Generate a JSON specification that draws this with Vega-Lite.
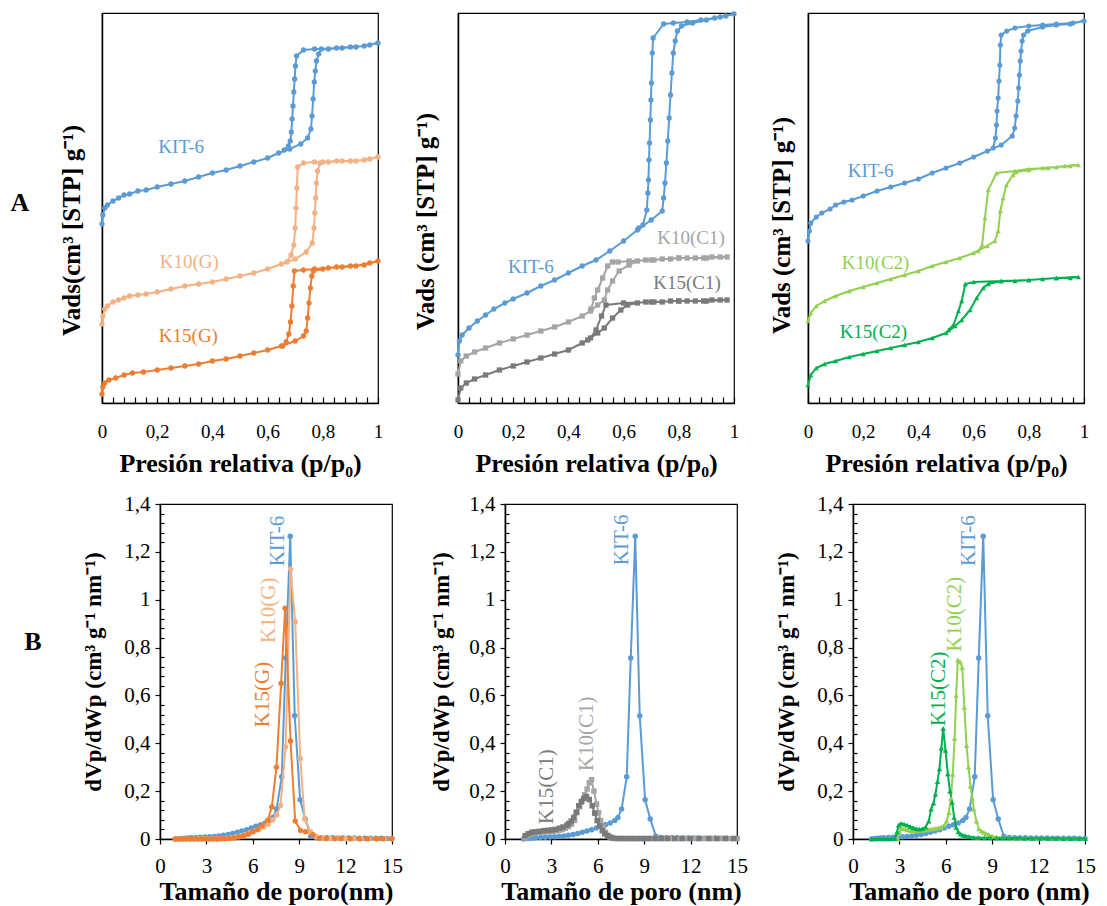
{
"$schema": "https://vega.github.io/schema/vega-lite/v6.json",
"padding": {"left": 10, "top": 9, "right": 0, "bottom": 0},
"spacing": 15,
"datasets": {
"t1": [
{"s":"KIT-6","i":0,"p":0,"v":179},{"s":"KIT-6","i":1,"p":0.003,"v":188},{"s":"KIT-6","i":2,"p":0.01,"v":195},{"s":"KIT-6","i":3,"p":0.02,"v":198},{"s":"KIT-6","i":4,"p":0.04,"v":202},{"s":"KIT-6","i":5,"p":0.06,"v":205},{"s":"KIT-6","i":6,"p":0.08,"v":208},{"s":"KIT-6","i":7,"p":0.1,"v":209},{"s":"KIT-6","i":8,"p":0.13,"v":212},{"s":"KIT-6","i":9,"p":0.16,"v":213},{"s":"KIT-6","i":10,"p":0.2,"v":216},{"s":"KIT-6","i":11,"p":0.25,"v":219},{"s":"KIT-6","i":12,"p":0.3,"v":222},{"s":"KIT-6","i":13,"p":0.35,"v":226},{"s":"KIT-6","i":14,"p":0.4,"v":230},{"s":"KIT-6","i":15,"p":0.45,"v":233},{"s":"KIT-6","i":16,"p":0.5,"v":237},{"s":"KIT-6","i":17,"p":0.55,"v":241},{"s":"KIT-6","i":18,"p":0.6,"v":245},{"s":"KIT-6","i":19,"p":0.64,"v":250},{"s":"KIT-6","i":20,"p":0.68,"v":254},{"s":"KIT-6","i":21,"p":0.72,"v":259},{"s":"KIT-6","i":22,"p":0.745,"v":265},{"s":"KIT-6","i":23,"p":0.757,"v":274},{"s":"KIT-6","i":24,"p":0.761,"v":287},{"s":"KIT-6","i":25,"p":0.765,"v":304},{"s":"KIT-6","i":26,"p":0.769,"v":321},{"s":"KIT-6","i":27,"p":0.773,"v":332},{"s":"KIT-6","i":28,"p":0.777,"v":342},{"s":"KIT-6","i":29,"p":0.785,"v":349},{"s":"KIT-6","i":30,"p":0.795,"v":354},{"s":"KIT-6","i":31,"p":0.85,"v":355},{"s":"KIT-6","i":32,"p":0.9,"v":356},{"s":"KIT-6","i":33,"p":0.95,"v":357},{"s":"KIT-6","i":34,"p":1.0,"v":360},{"s":"KIT-6","i":35,"p":0.97,"v":358},{"s":"KIT-6","i":36,"p":0.92,"v":356},{"s":"KIT-6","i":37,"p":0.87,"v":355},{"s":"KIT-6","i":38,"p":0.82,"v":354},{"s":"KIT-6","i":39,"p":0.77,"v":354},{"s":"KIT-6","i":40,"p":0.73,"v":353},{"s":"KIT-6","i":41,"p":0.705,"v":347},{"s":"KIT-6","i":42,"p":0.701,"v":337},{"s":"KIT-6","i":43,"p":0.698,"v":324},{"s":"KIT-6","i":44,"p":0.695,"v":311},{"s":"KIT-6","i":45,"p":0.692,"v":297},{"s":"KIT-6","i":46,"p":0.689,"v":284},{"s":"KIT-6","i":47,"p":0.686,"v":271},{"s":"KIT-6","i":48,"p":0.682,"v":262},{"s":"KIT-6","i":49,"p":0.675,"v":257},{"s":"KIT-6","i":50,"p":0.66,"v":253},
{"s":"K10(G)","i":0,"p":0,"v":79},{"s":"K10(G)","i":1,"p":0.003,"v":87},{"s":"K10(G)","i":2,"p":0.01,"v":94},{"s":"K10(G)","i":3,"p":0.02,"v":97},{"s":"K10(G)","i":4,"p":0.04,"v":101},{"s":"K10(G)","i":5,"p":0.06,"v":103},{"s":"K10(G)","i":6,"p":0.08,"v":105},{"s":"K10(G)","i":7,"p":0.1,"v":107},{"s":"K10(G)","i":8,"p":0.13,"v":108},{"s":"K10(G)","i":9,"p":0.16,"v":109},{"s":"K10(G)","i":10,"p":0.2,"v":111},{"s":"K10(G)","i":11,"p":0.25,"v":114},{"s":"K10(G)","i":12,"p":0.3,"v":117},{"s":"K10(G)","i":13,"p":0.35,"v":119},{"s":"K10(G)","i":14,"p":0.4,"v":121},{"s":"K10(G)","i":15,"p":0.45,"v":124},{"s":"K10(G)","i":16,"p":0.5,"v":127},{"s":"K10(G)","i":17,"p":0.55,"v":130},{"s":"K10(G)","i":18,"p":0.6,"v":134},{"s":"K10(G)","i":19,"p":0.65,"v":139},{"s":"K10(G)","i":20,"p":0.7,"v":144},{"s":"K10(G)","i":21,"p":0.74,"v":151},{"s":"K10(G)","i":22,"p":0.762,"v":160},{"s":"K10(G)","i":23,"p":0.768,"v":175},{"s":"K10(G)","i":24,"p":0.771,"v":190},{"s":"K10(G)","i":25,"p":0.774,"v":205},{"s":"K10(G)","i":26,"p":0.777,"v":220},{"s":"K10(G)","i":27,"p":0.781,"v":232},{"s":"K10(G)","i":28,"p":0.79,"v":240},{"s":"K10(G)","i":29,"p":0.8,"v":241},{"s":"K10(G)","i":30,"p":0.85,"v":242},{"s":"K10(G)","i":31,"p":0.9,"v":242},{"s":"K10(G)","i":32,"p":0.95,"v":243},{"s":"K10(G)","i":33,"p":1.0,"v":246},{"s":"K10(G)","i":34,"p":0.97,"v":244},{"s":"K10(G)","i":35,"p":0.92,"v":242},{"s":"K10(G)","i":36,"p":0.87,"v":242},{"s":"K10(G)","i":37,"p":0.82,"v":241},{"s":"K10(G)","i":38,"p":0.77,"v":241},{"s":"K10(G)","i":39,"p":0.73,"v":240},{"s":"K10(G)","i":40,"p":0.709,"v":236},{"s":"K10(G)","i":41,"p":0.706,"v":215},{"s":"K10(G)","i":42,"p":0.703,"v":195},{"s":"K10(G)","i":43,"p":0.7,"v":175},{"s":"K10(G)","i":44,"p":0.695,"v":158},{"s":"K10(G)","i":45,"p":0.685,"v":148},{"s":"K10(G)","i":46,"p":0.67,"v":141},
{"s":"K15(G)","i":0,"p":0,"v":9},{"s":"K15(G)","i":1,"p":0.003,"v":16},{"s":"K15(G)","i":2,"p":0.01,"v":20},{"s":"K15(G)","i":3,"p":0.025,"v":23},{"s":"K15(G)","i":4,"p":0.05,"v":25},{"s":"K15(G)","i":5,"p":0.08,"v":28},{"s":"K15(G)","i":6,"p":0.11,"v":30},{"s":"K15(G)","i":7,"p":0.15,"v":31},{"s":"K15(G)","i":8,"p":0.2,"v":33},{"s":"K15(G)","i":9,"p":0.25,"v":35},{"s":"K15(G)","i":10,"p":0.3,"v":37},{"s":"K15(G)","i":11,"p":0.35,"v":39},{"s":"K15(G)","i":12,"p":0.4,"v":42},{"s":"K15(G)","i":13,"p":0.45,"v":44},{"s":"K15(G)","i":14,"p":0.5,"v":47},{"s":"K15(G)","i":15,"p":0.55,"v":50},{"s":"K15(G)","i":16,"p":0.6,"v":53},{"s":"K15(G)","i":17,"p":0.65,"v":57},{"s":"K15(G)","i":18,"p":0.7,"v":62},{"s":"K15(G)","i":19,"p":0.73,"v":67},{"s":"K15(G)","i":20,"p":0.74,"v":72},{"s":"K15(G)","i":21,"p":0.745,"v":85},{"s":"K15(G)","i":22,"p":0.75,"v":100},{"s":"K15(G)","i":23,"p":0.755,"v":115},{"s":"K15(G)","i":24,"p":0.76,"v":127},{"s":"K15(G)","i":25,"p":0.766,"v":132},{"s":"K15(G)","i":26,"p":0.8,"v":134},{"s":"K15(G)","i":27,"p":0.85,"v":136},{"s":"K15(G)","i":28,"p":0.9,"v":137},{"s":"K15(G)","i":29,"p":0.95,"v":138},{"s":"K15(G)","i":30,"p":1.0,"v":142},{"s":"K15(G)","i":31,"p":0.97,"v":140},{"s":"K15(G)","i":32,"p":0.92,"v":137},{"s":"K15(G)","i":33,"p":0.87,"v":136},{"s":"K15(G)","i":34,"p":0.82,"v":135},{"s":"K15(G)","i":35,"p":0.77,"v":134},{"s":"K15(G)","i":36,"p":0.73,"v":133},{"s":"K15(G)","i":37,"p":0.697,"v":132},{"s":"K15(G)","i":38,"p":0.693,"v":117},{"s":"K15(G)","i":39,"p":0.688,"v":97},{"s":"K15(G)","i":40,"p":0.683,"v":81},{"s":"K15(G)","i":41,"p":0.677,"v":69},{"s":"K15(G)","i":42,"p":0.667,"v":61},{"s":"K15(G)","i":43,"p":0.655,"v":57}
],
"t2": [
{"s":"KIT-6","i":0,"p":0,"v":48},{"s":"KIT-6","i":1,"p":0.005,"v":62},{"s":"KIT-6","i":2,"p":0.015,"v":68},{"s":"KIT-6","i":3,"p":0.04,"v":75},{"s":"KIT-6","i":4,"p":0.07,"v":82},{"s":"KIT-6","i":5,"p":0.1,"v":88},{"s":"KIT-6","i":6,"p":0.13,"v":94},{"s":"KIT-6","i":7,"p":0.17,"v":100},{"s":"KIT-6","i":8,"p":0.2,"v":104},{"s":"KIT-6","i":9,"p":0.25,"v":110},{"s":"KIT-6","i":10,"p":0.3,"v":117},{"s":"KIT-6","i":11,"p":0.35,"v":123},{"s":"KIT-6","i":12,"p":0.4,"v":130},{"s":"KIT-6","i":13,"p":0.45,"v":137},{"s":"KIT-6","i":14,"p":0.5,"v":143},{"s":"KIT-6","i":15,"p":0.55,"v":152},{"s":"KIT-6","i":16,"p":0.6,"v":162},{"s":"KIT-6","i":17,"p":0.65,"v":173},{"s":"KIT-6","i":18,"p":0.7,"v":183},{"s":"KIT-6","i":19,"p":0.74,"v":192},{"s":"KIT-6","i":20,"p":0.745,"v":205},{"s":"KIT-6","i":21,"p":0.75,"v":220},{"s":"KIT-6","i":22,"p":0.755,"v":240},{"s":"KIT-6","i":23,"p":0.76,"v":262},{"s":"KIT-6","i":24,"p":0.765,"v":285},{"s":"KIT-6","i":25,"p":0.77,"v":308},{"s":"KIT-6","i":26,"p":0.775,"v":330},{"s":"KIT-6","i":27,"p":0.78,"v":350},{"s":"KIT-6","i":28,"p":0.787,"v":362},{"s":"KIT-6","i":29,"p":0.795,"v":372},{"s":"KIT-6","i":30,"p":0.81,"v":377},{"s":"KIT-6","i":31,"p":0.85,"v":380},{"s":"KIT-6","i":32,"p":0.9,"v":383},{"s":"KIT-6","i":33,"p":0.95,"v":386},{"s":"KIT-6","i":34,"p":1.0,"v":389},{"s":"KIT-6","i":35,"p":0.97,"v":387},{"s":"KIT-6","i":36,"p":0.93,"v":385},{"s":"KIT-6","i":37,"p":0.88,"v":383},{"s":"KIT-6","i":38,"p":0.83,"v":381},{"s":"KIT-6","i":39,"p":0.78,"v":380},{"s":"KIT-6","i":40,"p":0.745,"v":379},{"s":"KIT-6","i":41,"p":0.707,"v":365},{"s":"KIT-6","i":42,"p":0.704,"v":350},{"s":"KIT-6","i":43,"p":0.701,"v":320},{"s":"KIT-6","i":44,"p":0.699,"v":303},{"s":"KIT-6","i":45,"p":0.697,"v":283},{"s":"KIT-6","i":46,"p":0.694,"v":260},{"s":"KIT-6","i":47,"p":0.692,"v":243},{"s":"KIT-6","i":48,"p":0.69,"v":223},{"s":"KIT-6","i":49,"p":0.688,"v":210},{"s":"KIT-6","i":50,"p":0.684,"v":193},{"s":"KIT-6","i":51,"p":0.67,"v":178},{"s":"KIT-6","i":52,"p":0.655,"v":175},
{"s":"K10(C1)","i":0,"p":0,"v":29},{"s":"K10(C1)","i":1,"p":0.01,"v":42},{"s":"K10(C1)","i":2,"p":0.03,"v":47},{"s":"K10(C1)","i":3,"p":0.06,"v":51},{"s":"K10(C1)","i":4,"p":0.1,"v":55},{"s":"K10(C1)","i":5,"p":0.15,"v":60},{"s":"K10(C1)","i":6,"p":0.2,"v":64},{"s":"K10(C1)","i":7,"p":0.25,"v":68},{"s":"K10(C1)","i":8,"p":0.3,"v":72},{"s":"K10(C1)","i":9,"p":0.35,"v":76},{"s":"K10(C1)","i":10,"p":0.4,"v":81},{"s":"K10(C1)","i":11,"p":0.45,"v":87},{"s":"K10(C1)","i":12,"p":0.48,"v":92},{"s":"K10(C1)","i":13,"p":0.506,"v":98},{"s":"K10(C1)","i":14,"p":0.53,"v":103},{"s":"K10(C1)","i":15,"p":0.542,"v":113},{"s":"K10(C1)","i":16,"p":0.56,"v":122},{"s":"K10(C1)","i":17,"p":0.584,"v":132},{"s":"K10(C1)","i":18,"p":0.62,"v":138},{"s":"K10(C1)","i":19,"p":0.65,"v":142},{"s":"K10(C1)","i":20,"p":0.68,"v":143},{"s":"K10(C1)","i":21,"p":0.71,"v":143},{"s":"K10(C1)","i":22,"p":0.74,"v":144},{"s":"K10(C1)","i":23,"p":0.77,"v":144},{"s":"K10(C1)","i":24,"p":0.8,"v":145},{"s":"K10(C1)","i":25,"p":0.83,"v":145},{"s":"K10(C1)","i":26,"p":0.86,"v":145},{"s":"K10(C1)","i":27,"p":0.89,"v":145},{"s":"K10(C1)","i":28,"p":0.92,"v":146},{"s":"K10(C1)","i":29,"p":0.95,"v":146},{"s":"K10(C1)","i":30,"p":0.975,"v":146},{"s":"K10(C1)","i":31,"p":0.9,"v":145},{"s":"K10(C1)","i":32,"p":0.8,"v":145},{"s":"K10(C1)","i":33,"p":0.7,"v":143},{"s":"K10(C1)","i":34,"p":0.62,"v":142},{"s":"K10(C1)","i":35,"p":0.58,"v":141},{"s":"K10(C1)","i":36,"p":0.56,"v":141},{"s":"K10(C1)","i":37,"p":0.542,"v":137},{"s":"K10(C1)","i":38,"p":0.524,"v":125},{"s":"K10(C1)","i":39,"p":0.506,"v":113},{"s":"K10(C1)","i":40,"p":0.494,"v":105},{"s":"K10(C1)","i":41,"p":0.482,"v":94},
{"s":"K15(C1)","i":0,"p":0,"v":3},{"s":"K15(C1)","i":1,"p":0.01,"v":15},{"s":"K15(C1)","i":2,"p":0.03,"v":20},{"s":"K15(C1)","i":3,"p":0.06,"v":24},{"s":"K15(C1)","i":4,"p":0.1,"v":28},{"s":"K15(C1)","i":5,"p":0.15,"v":33},{"s":"K15(C1)","i":6,"p":0.2,"v":37},{"s":"K15(C1)","i":7,"p":0.25,"v":41},{"s":"K15(C1)","i":8,"p":0.3,"v":45},{"s":"K15(C1)","i":9,"p":0.35,"v":49},{"s":"K15(C1)","i":10,"p":0.4,"v":53},{"s":"K15(C1)","i":11,"p":0.45,"v":60},{"s":"K15(C1)","i":12,"p":0.47,"v":63},{"s":"K15(C1)","i":13,"p":0.506,"v":70},{"s":"K15(C1)","i":14,"p":0.53,"v":75},{"s":"K15(C1)","i":15,"p":0.56,"v":85},{"s":"K15(C1)","i":16,"p":0.59,"v":93},{"s":"K15(C1)","i":17,"p":0.614,"v":98},{"s":"K15(C1)","i":18,"p":0.65,"v":100},{"s":"K15(C1)","i":19,"p":0.68,"v":101},{"s":"K15(C1)","i":20,"p":0.71,"v":101},{"s":"K15(C1)","i":21,"p":0.74,"v":101},{"s":"K15(C1)","i":22,"p":0.77,"v":102},{"s":"K15(C1)","i":23,"p":0.8,"v":102},{"s":"K15(C1)","i":24,"p":0.83,"v":102},{"s":"K15(C1)","i":25,"p":0.86,"v":102},{"s":"K15(C1)","i":26,"p":0.89,"v":102},{"s":"K15(C1)","i":27,"p":0.92,"v":103},{"s":"K15(C1)","i":28,"p":0.95,"v":103},{"s":"K15(C1)","i":29,"p":0.975,"v":103},{"s":"K15(C1)","i":30,"p":0.9,"v":102},{"s":"K15(C1)","i":31,"p":0.8,"v":102},{"s":"K15(C1)","i":32,"p":0.7,"v":101},{"s":"K15(C1)","i":33,"p":0.6,"v":100},{"s":"K15(C1)","i":34,"p":0.536,"v":98},{"s":"K15(C1)","i":35,"p":0.52,"v":87},{"s":"K15(C1)","i":36,"p":0.5,"v":73},{"s":"K15(C1)","i":37,"p":0.48,"v":65}
],
"t3": [
{"s":"KIT-6","i":0,"p":0,"v":162},{"s":"KIT-6","i":1,"p":0.005,"v":172},{"s":"KIT-6","i":2,"p":0.01,"v":180},{"s":"KIT-6","i":3,"p":0.03,"v":186},{"s":"KIT-6","i":4,"p":0.05,"v":190},{"s":"KIT-6","i":5,"p":0.08,"v":194},{"s":"KIT-6","i":6,"p":0.1,"v":198},{"s":"KIT-6","i":7,"p":0.13,"v":201},{"s":"KIT-6","i":8,"p":0.16,"v":203},{"s":"KIT-6","i":9,"p":0.2,"v":207},{"s":"KIT-6","i":10,"p":0.25,"v":212},{"s":"KIT-6","i":11,"p":0.3,"v":216},{"s":"KIT-6","i":12,"p":0.35,"v":220},{"s":"KIT-6","i":13,"p":0.4,"v":224},{"s":"KIT-6","i":14,"p":0.45,"v":230},{"s":"KIT-6","i":15,"p":0.5,"v":235},{"s":"KIT-6","i":16,"p":0.55,"v":240},{"s":"KIT-6","i":17,"p":0.6,"v":246},{"s":"KIT-6","i":18,"p":0.65,"v":252},{"s":"KIT-6","i":19,"p":0.7,"v":258},{"s":"KIT-6","i":20,"p":0.74,"v":267},{"s":"KIT-6","i":21,"p":0.749,"v":275},{"s":"KIT-6","i":22,"p":0.754,"v":287},{"s":"KIT-6","i":23,"p":0.76,"v":302},{"s":"KIT-6","i":24,"p":0.763,"v":315},{"s":"KIT-6","i":25,"p":0.766,"v":328},{"s":"KIT-6","i":26,"p":0.769,"v":342},{"s":"KIT-6","i":27,"p":0.772,"v":352},{"s":"KIT-6","i":28,"p":0.776,"v":362},{"s":"KIT-6","i":29,"p":0.781,"v":368},{"s":"KIT-6","i":30,"p":0.796,"v":372},{"s":"KIT-6","i":31,"p":0.85,"v":376},{"s":"KIT-6","i":32,"p":0.9,"v":378},{"s":"KIT-6","i":33,"p":0.95,"v":379},{"s":"KIT-6","i":34,"p":1.0,"v":382},{"s":"KIT-6","i":35,"p":0.96,"v":380},{"s":"KIT-6","i":36,"p":0.9,"v":379},{"s":"KIT-6","i":37,"p":0.85,"v":378},{"s":"KIT-6","i":38,"p":0.8,"v":377},{"s":"KIT-6","i":39,"p":0.75,"v":375},{"s":"KIT-6","i":40,"p":0.72,"v":372},{"s":"KIT-6","i":41,"p":0.7,"v":368},{"s":"KIT-6","i":42,"p":0.697,"v":358},{"s":"KIT-6","i":43,"p":0.695,"v":338},{"s":"KIT-6","i":44,"p":0.692,"v":322},{"s":"KIT-6","i":45,"p":0.689,"v":305},{"s":"KIT-6","i":46,"p":0.685,"v":292},{"s":"KIT-6","i":47,"p":0.683,"v":278},{"s":"KIT-6","i":48,"p":0.679,"v":265},{"s":"KIT-6","i":49,"p":0.671,"v":255},
{"s":"K10(C2)","i":0,"p":0,"v":82},{"s":"K10(C2)","i":1,"p":0.01,"v":90},{"s":"K10(C2)","i":2,"p":0.03,"v":97},{"s":"K10(C2)","i":3,"p":0.06,"v":102},{"s":"K10(C2)","i":4,"p":0.1,"v":107},{"s":"K10(C2)","i":5,"p":0.15,"v":112},{"s":"K10(C2)","i":6,"p":0.2,"v":116},{"s":"K10(C2)","i":7,"p":0.25,"v":120},{"s":"K10(C2)","i":8,"p":0.3,"v":124},{"s":"K10(C2)","i":9,"p":0.35,"v":128},{"s":"K10(C2)","i":10,"p":0.4,"v":132},{"s":"K10(C2)","i":11,"p":0.45,"v":137},{"s":"K10(C2)","i":12,"p":0.5,"v":141},{"s":"K10(C2)","i":13,"p":0.55,"v":145},{"s":"K10(C2)","i":14,"p":0.6,"v":150},{"s":"K10(C2)","i":15,"p":0.649,"v":157},{"s":"K10(C2)","i":16,"p":0.677,"v":162},{"s":"K10(C2)","i":17,"p":0.689,"v":172},{"s":"K10(C2)","i":18,"p":0.697,"v":192},{"s":"K10(C2)","i":19,"p":0.707,"v":205},{"s":"K10(C2)","i":20,"p":0.719,"v":218},{"s":"K10(C2)","i":21,"p":0.743,"v":228},{"s":"K10(C2)","i":22,"p":0.754,"v":231},{"s":"K10(C2)","i":23,"p":0.8,"v":233},{"s":"K10(C2)","i":24,"p":0.85,"v":235},{"s":"K10(C2)","i":25,"p":0.9,"v":236},{"s":"K10(C2)","i":26,"p":0.95,"v":237},{"s":"K10(C2)","i":27,"p":0.98,"v":238},{"s":"K10(C2)","i":28,"p":0.93,"v":237},{"s":"K10(C2)","i":29,"p":0.87,"v":235},{"s":"K10(C2)","i":30,"p":0.8,"v":234},{"s":"K10(C2)","i":31,"p":0.75,"v":232},{"s":"K10(C2)","i":32,"p":0.683,"v":230},{"s":"K10(C2)","i":33,"p":0.653,"v":213},{"s":"K10(C2)","i":34,"p":0.641,"v":185},{"s":"K10(C2)","i":35,"p":0.631,"v":158},{"s":"K10(C2)","i":36,"p":0.617,"v":152},
{"s":"K15(C2)","i":0,"p":0,"v":18},{"s":"K15(C2)","i":1,"p":0.01,"v":28},{"s":"K15(C2)","i":2,"p":0.03,"v":35},{"s":"K15(C2)","i":3,"p":0.06,"v":39},{"s":"K15(C2)","i":4,"p":0.1,"v":42},{"s":"K15(C2)","i":5,"p":0.15,"v":46},{"s":"K15(C2)","i":6,"p":0.2,"v":49},{"s":"K15(C2)","i":7,"p":0.25,"v":52},{"s":"K15(C2)","i":8,"p":0.3,"v":55},{"s":"K15(C2)","i":9,"p":0.35,"v":58},{"s":"K15(C2)","i":10,"p":0.4,"v":61},{"s":"K15(C2)","i":11,"p":0.45,"v":65},{"s":"K15(C2)","i":12,"p":0.5,"v":70},{"s":"K15(C2)","i":13,"p":0.533,"v":77},{"s":"K15(C2)","i":14,"p":0.557,"v":83},{"s":"K15(C2)","i":15,"p":0.587,"v":93},{"s":"K15(C2)","i":16,"p":0.611,"v":105},{"s":"K15(C2)","i":17,"p":0.635,"v":115},{"s":"K15(C2)","i":18,"p":0.653,"v":119},{"s":"K15(C2)","i":19,"p":0.7,"v":122},{"s":"K15(C2)","i":20,"p":0.75,"v":122},{"s":"K15(C2)","i":21,"p":0.8,"v":123},{"s":"K15(C2)","i":22,"p":0.85,"v":124},{"s":"K15(C2)","i":23,"p":0.9,"v":125},{"s":"K15(C2)","i":24,"p":0.95,"v":125},{"s":"K15(C2)","i":25,"p":0.98,"v":126},{"s":"K15(C2)","i":26,"p":0.9,"v":125},{"s":"K15(C2)","i":27,"p":0.8,"v":123},{"s":"K15(C2)","i":28,"p":0.7,"v":122},{"s":"K15(C2)","i":29,"p":0.6,"v":121},{"s":"K15(C2)","i":30,"p":0.57,"v":119},{"s":"K15(C2)","i":31,"p":0.557,"v":102},{"s":"K15(C2)","i":32,"p":0.545,"v":92},{"s":"K15(C2)","i":33,"p":0.527,"v":78},{"s":"K15(C2)","i":34,"p":0.509,"v":73}
],
"kit": [
{"s":"KIT-6","p":1.2,"v":0},{"s":"KIT-6","p":1.4,"v":0.002},{"s":"KIT-6","p":1.6,"v":0.003},{"s":"KIT-6","p":1.8,"v":0.004},{"s":"KIT-6","p":2.0,"v":0.005},{"s":"KIT-6","p":2.3,"v":0.006},{"s":"KIT-6","p":2.6,"v":0.007},{"s":"KIT-6","p":2.9,"v":0.008},{"s":"KIT-6","p":3.2,"v":0.009},{"s":"KIT-6","p":3.5,"v":0.011},{"s":"KIT-6","p":3.8,"v":0.013},{"s":"KIT-6","p":4.1,"v":0.016},{"s":"KIT-6","p":4.4,"v":0.019},{"s":"KIT-6","p":4.7,"v":0.023},{"s":"KIT-6","p":5.0,"v":0.028},{"s":"KIT-6","p":5.3,"v":0.033},{"s":"KIT-6","p":5.6,"v":0.039},{"s":"KIT-6","p":5.9,"v":0.046},{"s":"KIT-6","p":6.2,"v":0.053},{"s":"KIT-6","p":6.5,"v":0.06},{"s":"KIT-6","p":6.8,"v":0.067},{"s":"KIT-6","p":7.1,"v":0.077},{"s":"KIT-6","p":7.3,"v":0.09},{"s":"KIT-6","p":7.54,"v":0.125},{"s":"KIT-6","p":7.87,"v":0.26},{"s":"KIT-6","p":8.13,"v":0.756},{"s":"KIT-6","p":8.42,"v":1.265},{"s":"KIT-6","p":8.71,"v":0.515},{"s":"KIT-6","p":9.06,"v":0.164},{"s":"KIT-6","p":9.39,"v":0.084},{"s":"KIT-6","p":9.75,"v":0.012},{"s":"KIT-6","p":10.1,"v":0.006},{"s":"KIT-6","p":10.45,"v":0.005},{"s":"KIT-6","p":10.8,"v":0.005},{"s":"KIT-6","p":11.15,"v":0.005},{"s":"KIT-6","p":11.5,"v":0.004},{"s":"KIT-6","p":11.85,"v":0.004},{"s":"KIT-6","p":12.2,"v":0.004},{"s":"KIT-6","p":12.55,"v":0.004},{"s":"KIT-6","p":12.9,"v":0.003},{"s":"KIT-6","p":13.25,"v":0.003},{"s":"KIT-6","p":13.6,"v":0.003},{"s":"KIT-6","p":13.95,"v":0.003},{"s":"KIT-6","p":14.3,"v":0.003},{"s":"KIT-6","p":14.65,"v":0.002},{"s":"KIT-6","p":15.0,"v":0.002}
],
"b4": [
{"s":"K10(G)","p":1.0,"v":0},{"s":"K10(G)","p":1.3,"v":0},{"s":"K10(G)","p":1.6,"v":0},{"s":"K10(G)","p":1.9,"v":0},{"s":"K10(G)","p":2.2,"v":0},{"s":"K10(G)","p":2.5,"v":0.001},{"s":"K10(G)","p":2.8,"v":0.001},{"s":"K10(G)","p":3.1,"v":0.001},{"s":"K10(G)","p":3.4,"v":0.001},{"s":"K10(G)","p":3.7,"v":0.002},{"s":"K10(G)","p":4.0,"v":0.002},{"s":"K10(G)","p":4.3,"v":0.003},{"s":"K10(G)","p":4.6,"v":0.005},{"s":"K10(G)","p":4.9,"v":0.008},{"s":"K10(G)","p":5.2,"v":0.012},{"s":"K10(G)","p":5.5,"v":0.018},{"s":"K10(G)","p":5.8,"v":0.025},{"s":"K10(G)","p":6.1,"v":0.032},{"s":"K10(G)","p":6.4,"v":0.04},{"s":"K10(G)","p":6.7,"v":0.05},{"s":"K10(G)","p":7.0,"v":0.062},{"s":"K10(G)","p":7.3,"v":0.08},{"s":"K10(G)","p":7.55,"v":0.1},{"s":"K10(G)","p":7.79,"v":0.14},{"s":"K10(G)","p":8.12,"v":0.385},{"s":"K10(G)","p":8.44,"v":1.128},{"s":"K10(G)","p":8.74,"v":0.908},{"s":"K10(G)","p":9.07,"v":0.336},{"s":"K10(G)","p":9.35,"v":0.085},{"s":"K10(G)","p":9.73,"v":0.03},{"s":"K10(G)","p":10.1,"v":0.01},{"s":"K10(G)","p":10.5,"v":0.004},{"s":"K10(G)","p":11.0,"v":0.002},{"s":"K10(G)","p":11.5,"v":0.002},{"s":"K10(G)","p":12.0,"v":0.001},{"s":"K10(G)","p":12.5,"v":0.001},{"s":"K10(G)","p":13.0,"v":0.001},{"s":"K10(G)","p":13.5,"v":0.001},{"s":"K10(G)","p":14.0,"v":0.001},{"s":"K10(G)","p":14.5,"v":0.001},{"s":"K10(G)","p":15.0,"v":0.001},
{"s":"K15(G)","p":0.97,"v":0},{"s":"K15(G)","p":1.2,"v":0},{"s":"K15(G)","p":1.45,"v":0},{"s":"K15(G)","p":1.7,"v":0},{"s":"K15(G)","p":1.95,"v":0},{"s":"K15(G)","p":2.2,"v":0},{"s":"K15(G)","p":2.45,"v":0},{"s":"K15(G)","p":2.7,"v":0},{"s":"K15(G)","p":2.95,"v":0},{"s":"K15(G)","p":3.2,"v":0},{"s":"K15(G)","p":3.45,"v":0},{"s":"K15(G)","p":3.7,"v":0},{"s":"K15(G)","p":3.95,"v":0.001},{"s":"K15(G)","p":4.2,"v":0.001},{"s":"K15(G)","p":4.5,"v":0.002},{"s":"K15(G)","p":4.8,"v":0.004},{"s":"K15(G)","p":5.1,"v":0.008},{"s":"K15(G)","p":5.4,"v":0.013},{"s":"K15(G)","p":5.7,"v":0.02},{"s":"K15(G)","p":6.0,"v":0.03},{"s":"K15(G)","p":6.3,"v":0.04},{"s":"K15(G)","p":6.6,"v":0.055},{"s":"K15(G)","p":6.97,"v":0.078},{"s":"K15(G)","p":7.23,"v":0.134},{"s":"K15(G)","p":7.53,"v":0.3},{"s":"K15(G)","p":7.83,"v":0.65},{"s":"K15(G)","p":8.09,"v":0.964},{"s":"K15(G)","p":8.44,"v":0.41},{"s":"K15(G)","p":8.74,"v":0.075},{"s":"K15(G)","p":9.09,"v":0.036},{"s":"K15(G)","p":9.41,"v":0.03},{"s":"K15(G)","p":9.89,"v":0.018},{"s":"K15(G)","p":10.3,"v":0.003},{"s":"K15(G)","p":10.75,"v":0.002},{"s":"K15(G)","p":11.3,"v":0.002},{"s":"K15(G)","p":11.7,"v":0.002},{"s":"K15(G)","p":12.3,"v":0.001},{"s":"K15(G)","p":12.9,"v":0.001},{"s":"K15(G)","p":13.4,"v":0.001},{"s":"K15(G)","p":14.0,"v":0.001},{"s":"K15(G)","p":14.4,"v":0.001},{"s":"K15(G)","p":14.96,"v":0.001}
],
"b5": [
{"s":"K10(C1)","p":1.3,"v":0.005},{"s":"K10(C1)","p":1.5,"v":0.015},{"s":"K10(C1)","p":1.7,"v":0.022},{"s":"K10(C1)","p":1.9,"v":0.025},{"s":"K10(C1)","p":2.1,"v":0.027},{"s":"K10(C1)","p":2.3,"v":0.028},{"s":"K10(C1)","p":2.5,"v":0.029},{"s":"K10(C1)","p":2.7,"v":0.03},{"s":"K10(C1)","p":2.9,"v":0.031},{"s":"K10(C1)","p":3.1,"v":0.032},{"s":"K10(C1)","p":3.3,"v":0.034},{"s":"K10(C1)","p":3.5,"v":0.036},{"s":"K10(C1)","p":3.7,"v":0.04},{"s":"K10(C1)","p":3.9,"v":0.045},{"s":"K10(C1)","p":4.1,"v":0.052},{"s":"K10(C1)","p":4.3,"v":0.062},{"s":"K10(C1)","p":4.5,"v":0.078},{"s":"K10(C1)","p":4.66,"v":0.11},{"s":"K10(C1)","p":4.83,"v":0.135},{"s":"K10(C1)","p":4.99,"v":0.16},{"s":"K10(C1)","p":5.15,"v":0.185},{"s":"K10(C1)","p":5.31,"v":0.209},{"s":"K10(C1)","p":5.45,"v":0.235},{"s":"K10(C1)","p":5.59,"v":0.248},{"s":"K10(C1)","p":5.75,"v":0.2},{"s":"K10(C1)","p":5.92,"v":0.146},{"s":"K10(C1)","p":6.05,"v":0.11},{"s":"K10(C1)","p":6.18,"v":0.077},{"s":"K10(C1)","p":6.34,"v":0.05},{"s":"K10(C1)","p":6.5,"v":0.028},{"s":"K10(C1)","p":6.67,"v":0.015},{"s":"K10(C1)","p":6.83,"v":0.007},{"s":"K10(C1)","p":7.05,"v":0.003},{"s":"K10(C1)","p":7.37,"v":0.002},{"s":"K10(C1)","p":7.74,"v":0.002},{"s":"K10(C1)","p":8.09,"v":0.002},{"s":"K10(C1)","p":8.41,"v":0.002},{"s":"K10(C1)","p":8.78,"v":0.002},{"s":"K10(C1)","p":9.15,"v":0.002},{"s":"K10(C1)","p":9.5,"v":0.002},{"s":"K10(C1)","p":9.91,"v":0.002},{"s":"K10(C1)","p":10.3,"v":0.002},{"s":"K10(C1)","p":10.73,"v":0.002},{"s":"K10(C1)","p":11.23,"v":0.002},{"s":"K10(C1)","p":11.7,"v":0.002},{"s":"K10(C1)","p":12.25,"v":0.002},{"s":"K10(C1)","p":12.9,"v":0.002},{"s":"K10(C1)","p":13.44,"v":0.002},{"s":"K10(C1)","p":13.98,"v":0.002},{"s":"K10(C1)","p":14.52,"v":0.002},{"s":"K10(C1)","p":15.0,"v":0.002},
{"s":"K15(C1)","p":1.3,"v":0.014},{"s":"K15(C1)","p":1.5,"v":0.022},{"s":"K15(C1)","p":1.73,"v":0.028},{"s":"K15(C1)","p":1.95,"v":0.03},{"s":"K15(C1)","p":2.2,"v":0.032},{"s":"K15(C1)","p":2.5,"v":0.035},{"s":"K15(C1)","p":2.75,"v":0.036},{"s":"K15(C1)","p":3.0,"v":0.038},{"s":"K15(C1)","p":3.25,"v":0.04},{"s":"K15(C1)","p":3.5,"v":0.045},{"s":"K15(C1)","p":3.75,"v":0.05},{"s":"K15(C1)","p":4.0,"v":0.058},{"s":"K15(C1)","p":4.12,"v":0.065},{"s":"K15(C1)","p":4.28,"v":0.075},{"s":"K15(C1)","p":4.44,"v":0.09},{"s":"K15(C1)","p":4.6,"v":0.112},{"s":"K15(C1)","p":4.77,"v":0.139},{"s":"K15(C1)","p":4.93,"v":0.155},{"s":"K15(C1)","p":5.1,"v":0.17},{"s":"K15(C1)","p":5.27,"v":0.177},{"s":"K15(C1)","p":5.45,"v":0.165},{"s":"K15(C1)","p":5.64,"v":0.139},{"s":"K15(C1)","p":5.8,"v":0.108},{"s":"K15(C1)","p":5.96,"v":0.077},{"s":"K15(C1)","p":6.12,"v":0.055},{"s":"K15(C1)","p":6.29,"v":0.035},{"s":"K15(C1)","p":6.45,"v":0.022},{"s":"K15(C1)","p":6.61,"v":0.014},{"s":"K15(C1)","p":6.78,"v":0.008},{"s":"K15(C1)","p":6.94,"v":0.004},{"s":"K15(C1)","p":7.2,"v":0.002},{"s":"K15(C1)","p":7.55,"v":0.002},{"s":"K15(C1)","p":7.9,"v":0.002},{"s":"K15(C1)","p":8.25,"v":0.002},{"s":"K15(C1)","p":8.6,"v":0.002},{"s":"K15(C1)","p":8.95,"v":0.002},{"s":"K15(C1)","p":9.3,"v":0.002},{"s":"K15(C1)","p":9.7,"v":0.002},{"s":"K15(C1)","p":10.1,"v":0.002},{"s":"K15(C1)","p":10.5,"v":0.002},{"s":"K15(C1)","p":10.98,"v":0.002},{"s":"K15(C1)","p":11.45,"v":0.002},{"s":"K15(C1)","p":11.97,"v":0.002},{"s":"K15(C1)","p":12.55,"v":0.002},{"s":"K15(C1)","p":13.17,"v":0.002},{"s":"K15(C1)","p":13.7,"v":0.002},{"s":"K15(C1)","p":14.25,"v":0.002},{"s":"K15(C1)","p":14.8,"v":0.002}
],
"b6": [
{"s":"K10(C2)","p":2.9,"v":0},{"s":"K10(C2)","p":3.0,"v":0.03},{"s":"K10(C2)","p":3.1,"v":0.045},{"s":"K10(C2)","p":3.3,"v":0.042},{"s":"K10(C2)","p":3.5,"v":0.038},{"s":"K10(C2)","p":3.7,"v":0.035},{"s":"K10(C2)","p":3.9,"v":0.034},{"s":"K10(C2)","p":4.1,"v":0.034},{"s":"K10(C2)","p":4.3,"v":0.035},{"s":"K10(C2)","p":4.5,"v":0.036},{"s":"K10(C2)","p":4.7,"v":0.038},{"s":"K10(C2)","p":4.9,"v":0.04},{"s":"K10(C2)","p":5.1,"v":0.042},{"s":"K10(C2)","p":5.3,"v":0.044},{"s":"K10(C2)","p":5.5,"v":0.046},{"s":"K10(C2)","p":5.7,"v":0.05},{"s":"K10(C2)","p":5.9,"v":0.058},{"s":"K10(C2)","p":6.05,"v":0.075},{"s":"K10(C2)","p":6.2,"v":0.11},{"s":"K10(C2)","p":6.33,"v":0.17},{"s":"K10(C2)","p":6.45,"v":0.27},{"s":"K10(C2)","p":6.57,"v":0.42},{"s":"K10(C2)","p":6.67,"v":0.6},{"s":"K10(C2)","p":6.78,"v":0.748},{"s":"K10(C2)","p":6.93,"v":0.74},{"s":"K10(C2)","p":7.06,"v":0.717},{"s":"K10(C2)","p":7.2,"v":0.55},{"s":"K10(C2)","p":7.34,"v":0.39},{"s":"K10(C2)","p":7.47,"v":0.3},{"s":"K10(C2)","p":7.6,"v":0.22},{"s":"K10(C2)","p":7.71,"v":0.17},{"s":"K10(C2)","p":7.81,"v":0.125},{"s":"K10(C2)","p":7.98,"v":0.075},{"s":"K10(C2)","p":8.14,"v":0.042},{"s":"K10(C2)","p":8.3,"v":0.034},{"s":"K10(C2)","p":8.46,"v":0.028},{"s":"K10(C2)","p":8.62,"v":0.022},{"s":"K10(C2)","p":8.78,"v":0.018},{"s":"K10(C2)","p":9.0,"v":0.012},{"s":"K10(C2)","p":9.3,"v":0.008},{"s":"K10(C2)","p":9.7,"v":0.006},{"s":"K10(C2)","p":10.1,"v":0.005},{"s":"K10(C2)","p":10.6,"v":0.004},{"s":"K10(C2)","p":11.1,"v":0.004},{"s":"K10(C2)","p":11.6,"v":0.003},{"s":"K10(C2)","p":12.1,"v":0.003},{"s":"K10(C2)","p":12.6,"v":0.003},{"s":"K10(C2)","p":13.1,"v":0.002},{"s":"K10(C2)","p":13.6,"v":0.002},{"s":"K10(C2)","p":14.1,"v":0.002},{"s":"K10(C2)","p":14.6,"v":0.002},{"s":"K10(C2)","p":15.0,"v":0.002},
{"s":"K15(C2)","p":1.2,"v":0},{"s":"K15(C2)","p":1.45,"v":0},{"s":"K15(C2)","p":1.7,"v":0},{"s":"K15(C2)","p":1.95,"v":0},{"s":"K15(C2)","p":2.2,"v":0},{"s":"K15(C2)","p":2.45,"v":0},{"s":"K15(C2)","p":2.7,"v":0.002},{"s":"K15(C2)","p":2.85,"v":0.03},{"s":"K15(C2)","p":2.95,"v":0.058},{"s":"K15(C2)","p":3.1,"v":0.065},{"s":"K15(C2)","p":3.3,"v":0.062},{"s":"K15(C2)","p":3.5,"v":0.058},{"s":"K15(C2)","p":3.7,"v":0.052},{"s":"K15(C2)","p":3.9,"v":0.047},{"s":"K15(C2)","p":4.1,"v":0.043},{"s":"K15(C2)","p":4.3,"v":0.041},{"s":"K15(C2)","p":4.5,"v":0.043},{"s":"K15(C2)","p":4.7,"v":0.05},{"s":"K15(C2)","p":4.9,"v":0.075},{"s":"K15(C2)","p":5.05,"v":0.125},{"s":"K15(C2)","p":5.2,"v":0.15},{"s":"K15(C2)","p":5.33,"v":0.188},{"s":"K15(C2)","p":5.46,"v":0.24},{"s":"K15(C2)","p":5.59,"v":0.293},{"s":"K15(C2)","p":5.71,"v":0.38},{"s":"K15(C2)","p":5.83,"v":0.462},{"s":"K15(C2)","p":5.98,"v":0.37},{"s":"K15(C2)","p":6.13,"v":0.272},{"s":"K15(C2)","p":6.27,"v":0.2},{"s":"K15(C2)","p":6.41,"v":0.153},{"s":"K15(C2)","p":6.54,"v":0.09},{"s":"K15(C2)","p":6.67,"v":0.049},{"s":"K15(C2)","p":6.81,"v":0.03},{"s":"K15(C2)","p":6.95,"v":0.021},{"s":"K15(C2)","p":7.1,"v":0.016},{"s":"K15(C2)","p":7.27,"v":0.014},{"s":"K15(C2)","p":7.5,"v":0.01},{"s":"K15(C2)","p":7.8,"v":0.007},{"s":"K15(C2)","p":8.1,"v":0.006},{"s":"K15(C2)","p":8.5,"v":0.005},{"s":"K15(C2)","p":8.9,"v":0.005},{"s":"K15(C2)","p":9.3,"v":0.004},{"s":"K15(C2)","p":9.7,"v":0.004},{"s":"K15(C2)","p":10.1,"v":0.004},{"s":"K15(C2)","p":10.6,"v":0.004},{"s":"K15(C2)","p":11.1,"v":0.003},{"s":"K15(C2)","p":11.6,"v":0.003},{"s":"K15(C2)","p":12.1,"v":0.003},{"s":"K15(C2)","p":12.6,"v":0.003},{"s":"K15(C2)","p":13.1,"v":0.003},{"s":"K15(C2)","p":13.6,"v":0.002},{"s":"K15(C2)","p":14.1,"v":0.002},{"s":"K15(C2)","p":14.6,"v":0.002},{"s":"K15(C2)","p":15.0,"v":0.002}
],
"lt1": [{"s":"KIT-6","p":0.287,"v":256},{"s":"K10(G)","p":0.316,"v":141},{"s":"K15(G)","p":0.313,"v":67}],
"lt2": [{"s":"KIT-6","p":0.264,"v":136},{"s":"K10(C1)","p":0.844,"v":165},{"s":"K15(C1)","p":0.83,"v":120}],
"lt3": [{"s":"KIT-6","p":0.227,"v":232},{"s":"K10(C2)","p":0.245,"v":140},{"s":"K15(C2)","p":0.237,"v":71}],
"lb4": [{"s":"KIT-6","p":7.64,"v":1.245},{"s":"K10(G)","p":7.06,"v":0.956},{"s":"K15(G)","p":6.67,"v":0.604}],
"lb5": [{"s":"KIT-6","p":7.58,"v":1.25},{"s":"K10(C1)","p":5.31,"v":0.44},{"s":"K15(C1)","p":2.71,"v":0.219}],
"lb6": [{"s":"KIT-6","p":7.49,"v":1.247},{"s":"K10(C2)","p":6.58,"v":0.94},{"s":"K15(C2)","p":5.55,"v":0.628}]
},
"vconcat": [
{
"spacing": 28,
"hconcat": [
{"width": 18, "height": 380, "view": {"stroke": "transparent"}, "data": {"values": [{"t": "A"}]}, "mark": {"type": "text", "font": "Liberation Serif", "fontSize": 26, "fontWeight": "bold", "color": "#000000", "align": "center", "baseline": "middle"}, "encoding": {"text": {"field": "t"}}},
{
"width": 276, "height": 390,
"data": {"name": "t1"},
"encoding": {
"x": {"field": "p", "type": "quantitative", "scale": {"domain": [0, 1], "nice": false}, "title": "Presión relativa (p/p₀)",
 "axis": {"values": [0,0.04,0.08,0.12,0.16,0.2,0.24,0.28,0.32,0.36,0.4,0.44,0.48,0.52,0.56,0.6,0.64,0.68,0.72,0.76,0.8,0.84,0.88,0.92,0.96,1], "labelExpr": "abs(datum.value*5-round(datum.value*5))<0.001 ? replace(format(datum.value,'.1~f'),'.',',') : ''", "tickSize": -6, "labelPadding": 25, "titlePadding": 9, "titleFontSize": 26, "labelFontSize": 19}},
"y": {"field": "v", "type": "quantitative", "scale": {"domain": [0, 390], "nice": false, "zero": false}, "title": "Vads(cm³ [STP] g⁻¹)", "axis": {"labels": false, "ticks": false, "titlePadding": 18, "titleY": 217, "titleFontSize": 25}},
"color": {"field": "s", "type": "nominal", "legend": null, "scale": {"domain": ["KIT-6","K10(G)","K15(G)","K10(C1)","K15(C1)","K10(C2)","K15(C2)"], "range": ["#5B9BD5","#F4B183","#ED7D31","#A5A5A5","#7A7A7A","#92D050","#00B050"]}}
},
"layer": [
{"mark": {"type": "line", "strokeWidth": 2}, "encoding": {"order": {"field": "i", "type": "quantitative"}, "detail": {"field": "s"}}},
{"mark": {"type": "point", "filled": true, "opacity": 1, "size": 28}, "encoding": {"shape": {"field": "s", "type": "nominal", "legend": null, "scale": {"domain": ["KIT-6","K10(G)","K15(G)","K10(C1)","K15(C1)","K10(C2)","K15(C2)"], "range": ["circle","circle","circle","square","square","triangle-up","triangle-up"]}}}},
{"data": {"name": "lt1"}, "mark": {"type": "text", "font": "Liberation Serif", "fontSize": 19, "align": "center", "baseline": "middle"}, "encoding": {"text": {"field": "s"}}}
]
},
{
"width": 276, "height": 390,
"data": {"name": "t2"},
"encoding": {
"x": {"field": "p", "type": "quantitative", "scale": {"domain": [0, 1], "nice": false}, "title": "Presión relativa (p/p₀)",
 "axis": {"values": [0,0.04,0.08,0.12,0.16,0.2,0.24,0.28,0.32,0.36,0.4,0.44,0.48,0.52,0.56,0.6,0.64,0.68,0.72,0.76,0.8,0.84,0.88,0.92,0.96,1], "labelExpr": "abs(datum.value*5-round(datum.value*5))<0.001 ? replace(format(datum.value,'.1~f'),'.',',') : ''", "tickSize": -6, "labelPadding": 25, "titlePadding": 9, "titleFontSize": 26, "labelFontSize": 19}},
"y": {"field": "v", "type": "quantitative", "scale": {"domain": [0, 390], "nice": false, "zero": false}, "title": "Vads (cm³ [STP] g⁻¹)", "axis": {"labels": false, "ticks": false, "titlePadding": 20, "titleY": 208, "titleFontSize": 25}},
"color": {"field": "s", "type": "nominal", "legend": null, "scale": {"domain": ["KIT-6","K10(G)","K15(G)","K10(C1)","K15(C1)","K10(C2)","K15(C2)"], "range": ["#5B9BD5","#F4B183","#ED7D31","#A5A5A5","#7A7A7A","#92D050","#00B050"]}}
},
"layer": [
{"mark": {"type": "line", "strokeWidth": 2}, "encoding": {"order": {"field": "i", "type": "quantitative"}, "detail": {"field": "s"}}},
{"mark": {"type": "point", "filled": true, "opacity": 1, "size": 28}, "encoding": {"shape": {"field": "s", "type": "nominal", "legend": null, "scale": {"domain": ["KIT-6","K10(G)","K15(G)","K10(C1)","K15(C1)","K10(C2)","K15(C2)"], "range": ["circle","circle","circle","square","square","triangle-up","triangle-up"]}}}},
{"data": {"name": "lt2"}, "mark": {"type": "text", "font": "Liberation Serif", "fontSize": 19, "align": "center", "baseline": "middle"}, "encoding": {"text": {"field": "s"}}}
]
},
{
"width": 276, "height": 390,
"data": {"name": "t3"},
"encoding": {
"x": {"field": "p", "type": "quantitative", "scale": {"domain": [0, 1], "nice": false}, "title": "Presión relativa (p/p₀)",
 "axis": {"values": [0,0.04,0.08,0.12,0.16,0.2,0.24,0.28,0.32,0.36,0.4,0.44,0.48,0.52,0.56,0.6,0.64,0.68,0.72,0.76,0.8,0.84,0.88,0.92,0.96,1], "labelExpr": "abs(datum.value*5-round(datum.value*5))<0.001 ? replace(format(datum.value,'.1~f'),'.',',') : ''", "tickSize": -6, "labelPadding": 25, "titlePadding": 9, "titleFontSize": 26, "labelFontSize": 19}},
"y": {"field": "v", "type": "quantitative", "scale": {"domain": [0, 390], "nice": false, "zero": false}, "title": "Vads (cm³ [STP] g⁻¹)", "axis": {"labels": false, "ticks": false, "titlePadding": 14, "titleY": 212, "titleFontSize": 25}},
"color": {"field": "s", "type": "nominal", "legend": null, "scale": {"domain": ["KIT-6","K10(G)","K15(G)","K10(C1)","K15(C1)","K10(C2)","K15(C2)"], "range": ["#5B9BD5","#F4B183","#ED7D31","#A5A5A5","#7A7A7A","#92D050","#00B050"]}}
},
"layer": [
{"mark": {"type": "line", "strokeWidth": 2}, "encoding": {"order": {"field": "i", "type": "quantitative"}, "detail": {"field": "s"}}},
{"mark": {"type": "point", "filled": true, "opacity": 1, "size": 26}, "encoding": {"shape": {"field": "s", "type": "nominal", "legend": null, "scale": {"domain": ["KIT-6","K10(G)","K15(G)","K10(C1)","K15(C1)","K10(C2)","K15(C2)"], "range": ["circle","circle","circle","square","square","triangle-up","triangle-up"]}}}},
{"data": {"name": "lt3"}, "mark": {"type": "text", "font": "Liberation Serif", "fontSize": 19, "align": "center", "baseline": "middle"}, "encoding": {"text": {"field": "s"}}}
]
}
]
},
{
"spacing": 26,
"hconcat": [
{"width": 44, "height": 275, "view": {"stroke": "transparent"}, "data": {"values": [{"t": "B"}]}, "mark": {"type": "text", "font": "Liberation Serif", "fontSize": 26, "fontWeight": "bold", "color": "#000000", "align": "center", "baseline": "middle"}, "encoding": {"text": {"field": "t"}}},
{
"width": 232, "height": 335,
"encoding": {
"x": {"field": "p", "type": "quantitative", "scale": {"domain": [0, 15], "nice": false}, "title": "Tamaño de poro(nm)", "axis": {"values": [0,3,6,9,12,15], "tickSize": 5, "labelPadding": 11, "titlePadding": 2, "titleFontSize": 26, "labelFontSize": 21}},
"y": {"field": "v", "type": "quantitative", "scale": {"domain": [0, 1.4], "nice": false}, "title": "dVp/dWp (cm³ g⁻¹ nm⁻¹)", "axis": {"values": [0,0.04,0.08,0.12,0.16,0.2,0.24,0.28,0.32,0.36,0.4,0.44,0.48,0.52,0.56,0.6,0.64,0.68,0.72,0.76,0.8,0.84,0.88,0.92,0.96,1,1.04,1.08,1.12,1.16,1.2,1.24,1.28,1.32,1.36,1.4], "labelExpr": "abs(datum.value*5-round(datum.value*5))<0.001 ? replace(format(datum.value,'.1~f'),'.',',') : ''", "tickSize": {"condition": {"test": "abs(datum.value*5-round(datum.value*5))<0.001", "value": 5}, "value": -4}, "labelPadding": 5, "titlePadding": 18, "titleFontSize": 23, "labelFontSize": 21}},
"color": {"field": "s", "type": "nominal", "legend": null, "scale": {"domain": ["KIT-6","K10(G)","K15(G)","K10(C1)","K15(C1)","K10(C2)","K15(C2)"], "range": ["#5B9BD5","#F4B183","#ED7D31","#A5A5A5","#7A7A7A","#92D050","#00B050"]}}
},
"layer": [
{"data": {"name": "kit"}, "mark": {"type": "line", "strokeWidth": 2}},
{"data": {"name": "kit"}, "mark": {"type": "point", "filled": true, "opacity": 1, "size": 30}, "encoding": {"shape": {"field": "s", "type": "nominal", "legend": null, "scale": {"domain": ["KIT-6","K10(G)","K15(G)","K10(C1)","K15(C1)","K10(C2)","K15(C2)"], "range": ["circle","circle","circle","circle","circle","triangle-up","triangle-up"]}}}},
{"data": {"name": "b4"}, "mark": {"type": "line", "strokeWidth": 2}},
{"data": {"name": "b4"}, "mark": {"type": "point", "filled": true, "opacity": 1, "size": 30}, "encoding": {"shape": {"field": "s", "type": "nominal", "legend": null, "scale": {"domain": ["KIT-6","K10(G)","K15(G)","K10(C1)","K15(C1)","K10(C2)","K15(C2)"], "range": ["circle","circle","circle","circle","circle","triangle-up","triangle-up"]}}}},
{"data": {"name": "lb4"}, "mark": {"type": "text", "font": "Liberation Serif", "fontSize": 21, "angle": 270, "align": "center", "baseline": "middle"}, "encoding": {"text": {"field": "s"}}}
]
},
{
"width": 232, "height": 335,
"encoding": {
"x": {"field": "p", "type": "quantitative", "scale": {"domain": [0, 15], "nice": false}, "title": "Tamaño de poro (nm)", "axis": {"values": [0,3,6,9,12,15], "tickSize": 5, "labelPadding": 11, "titlePadding": 2, "titleFontSize": 26, "labelFontSize": 21}},
"y": {"field": "v", "type": "quantitative", "scale": {"domain": [0, 1.4], "nice": false}, "title": "dVp/dWp (cm³ g⁻¹ nm⁻¹)", "axis": {"values": [0,0.04,0.08,0.12,0.16,0.2,0.24,0.28,0.32,0.36,0.4,0.44,0.48,0.52,0.56,0.6,0.64,0.68,0.72,0.76,0.8,0.84,0.88,0.92,0.96,1,1.04,1.08,1.12,1.16,1.2,1.24,1.28,1.32,1.36,1.4], "labelExpr": "abs(datum.value*5-round(datum.value*5))<0.001 ? replace(format(datum.value,'.1~f'),'.',',') : ''", "tickSize": {"condition": {"test": "abs(datum.value*5-round(datum.value*5))<0.001", "value": 5}, "value": -4}, "labelPadding": 5, "titlePadding": 15, "titleFontSize": 23, "labelFontSize": 21}},
"color": {"field": "s", "type": "nominal", "legend": null, "scale": {"domain": ["KIT-6","K10(G)","K15(G)","K10(C1)","K15(C1)","K10(C2)","K15(C2)"], "range": ["#5B9BD5","#F4B183","#ED7D31","#A5A5A5","#7A7A7A","#92D050","#00B050"]}}
},
"layer": [
{"data": {"name": "kit"}, "mark": {"type": "line", "strokeWidth": 2}},
{"data": {"name": "kit"}, "mark": {"type": "point", "filled": true, "opacity": 1, "size": 30}, "encoding": {"shape": {"field": "s", "type": "nominal", "legend": null, "scale": {"domain": ["KIT-6","K10(G)","K15(G)","K10(C1)","K15(C1)","K10(C2)","K15(C2)"], "range": ["circle","circle","circle","circle","circle","triangle-up","triangle-up"]}}}},
{"data": {"name": "b5"}, "mark": {"type": "line", "strokeWidth": 2}},
{"data": {"name": "b5"}, "mark": {"type": "point", "filled": true, "opacity": 1, "size": 30}, "encoding": {"shape": {"field": "s", "type": "nominal", "legend": null, "scale": {"domain": ["KIT-6","K10(G)","K15(G)","K10(C1)","K15(C1)","K10(C2)","K15(C2)"], "range": ["circle","circle","circle","circle","circle","triangle-up","triangle-up"]}}}},
{"data": {"name": "lb5"}, "mark": {"type": "text", "font": "Liberation Serif", "fontSize": 21, "angle": 270, "align": "center", "baseline": "middle"}, "encoding": {"text": {"field": "s"}}}
]
},
{
"width": 232, "height": 335,
"encoding": {
"x": {"field": "p", "type": "quantitative", "scale": {"domain": [0, 15], "nice": false}, "title": "Tamaño de poro (nm)", "axis": {"values": [0,3,6,9,12,15], "tickSize": 5, "labelPadding": 11, "titlePadding": 2, "titleFontSize": 26, "labelFontSize": 21}},
"y": {"field": "v", "type": "quantitative", "scale": {"domain": [0, 1.4], "nice": false}, "title": "dVp/dWp (cm³ g⁻¹ nm⁻¹)", "axis": {"values": [0,0.04,0.08,0.12,0.16,0.2,0.24,0.28,0.32,0.36,0.4,0.44,0.48,0.52,0.56,0.6,0.64,0.68,0.72,0.76,0.8,0.84,0.88,0.92,0.96,1,1.04,1.08,1.12,1.16,1.2,1.24,1.28,1.32,1.36,1.4], "labelExpr": "abs(datum.value*5-round(datum.value*5))<0.001 ? replace(format(datum.value,'.1~f'),'.',',') : ''", "tickSize": {"condition": {"test": "abs(datum.value*5-round(datum.value*5))<0.001", "value": 5}, "value": -4}, "labelPadding": 5, "titlePadding": 18, "titleFontSize": 23, "labelFontSize": 21}},
"color": {"field": "s", "type": "nominal", "legend": null, "scale": {"domain": ["KIT-6","K10(G)","K15(G)","K10(C1)","K15(C1)","K10(C2)","K15(C2)"], "range": ["#5B9BD5","#F4B183","#ED7D31","#A5A5A5","#7A7A7A","#92D050","#00B050"]}}
},
"layer": [
{"data": {"name": "kit"}, "mark": {"type": "line", "strokeWidth": 2}},
{"data": {"name": "kit"}, "mark": {"type": "point", "filled": true, "opacity": 1, "size": 30}, "encoding": {"shape": {"field": "s", "type": "nominal", "legend": null, "scale": {"domain": ["KIT-6","K10(G)","K15(G)","K10(C1)","K15(C1)","K10(C2)","K15(C2)"], "range": ["circle","circle","circle","circle","circle","triangle-up","triangle-up"]}}}},
{"data": {"name": "b6"}, "mark": {"type": "line", "strokeWidth": 2}},
{"data": {"name": "b6"}, "mark": {"type": "point", "filled": true, "opacity": 1, "size": 30}, "encoding": {"shape": {"field": "s", "type": "nominal", "legend": null, "scale": {"domain": ["KIT-6","K10(G)","K15(G)","K10(C1)","K15(C1)","K10(C2)","K15(C2)"], "range": ["circle","circle","circle","circle","circle","triangle-up","triangle-up"]}}}},
{"data": {"name": "lb6"}, "mark": {"type": "text", "font": "Liberation Serif", "fontSize": 21, "angle": 270, "align": "center", "baseline": "middle"}, "encoding": {"text": {"field": "s"}}}
]
}
]
}
],
"config": {
"font": "Liberation Serif",
"background": "#ffffff",
"view": {"stroke": "#000000", "strokeWidth": 1.2},
"axis": {"labelFont": "Liberation Serif", "labelFontSize": 18, "labelColor": "#000000", "titleFont": "Liberation Serif", "titleFontSize": 22, "titleFontWeight": "bold", "titleColor": "#000000", "domainColor": "#000000", "domainWidth": 1.5, "tickColor": "#000000", "tickWidth": 1.2, "grid": false, "labelFlush": false, "labelOverlap": false}
}
}
